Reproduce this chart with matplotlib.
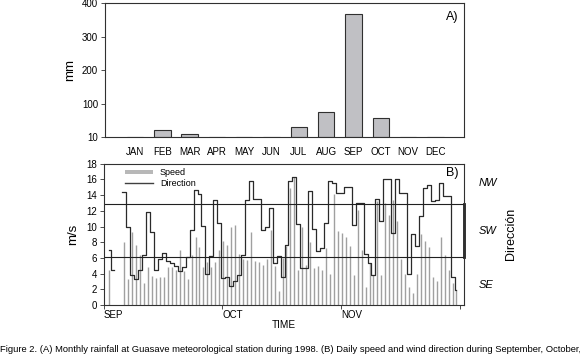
import matplotlib
matplotlib.use("Agg")
import matplotlib.pyplot as plt
import numpy as np
from matplotlib.patches import Patch
from matplotlib.lines import Line2D

plt.rcParams['font.family'] = ['Liberation Sans', 'DejaVu Sans']

# A) monthly rainfall 1998 (mm)
months = ['JAN', 'FEB', 'MAR', 'APR', 'MAY', 'JUN', 'JUL', 'AUG', 'SEP', 'OCT', 'NOV', 'DEC']
rain = [0, 20, 8, 0, 0, 0, 30, 75, 368, 58, 0, 0]
rain_ticks = [0, 100, 200, 300, 400]
rain_ticklabels = ['10', '100', '200', '300', '400']

# B) daily wind, 1 Sep .. 29 Nov (day index 1..89)
speed = [4.4, 0, 0, 0, 8.0, 3.3, 9.3, 7.6, 6.4, 2.8,
         4.9, 3.7, 3.4, 3.5, 3.6, 4.9, 4.8, 4.5, 7.0, 4.3,
         3.3, 6.4, 8.6, 7.4, 4.9, 5.5, 4.9, 5.5, 7.0, 8.1,
         7.7, 9.9, 10.2, 6.5, 5.8, 5.7, 9.3, 5.6, 5.5, 5.1,
         5.8, 9.5, 5.0, 1.8, 6.0, 7.5, 14.9, 16.3, 4.5, 10.0,
         5.1, 8.0, 4.7, 5.0, 4.4, 7.2, 4.0, 14.1, 9.4, 9.2,
         8.7, 7.5, 3.8, 12.1, 7.0, 2.3, 5.3, 3.8, 13.2, 3.8,
         13.0, 11.5, 13.4, 10.7, 5.8, 4.0, 2.3, 1.5, 4.0, 9.0,
         8.1, 7.4, 3.6, 3.0, 8.7, 6.4, 4.5, 2.8, 1.9]
direction = [7.0, 4.5, np.nan, np.nan, 14.4, 10.0, 3.8, 3.3, 4.5, 6.4,
             11.9, 9.3, 4.5, 5.8, 6.6, 5.6, 5.3, 5.0, 4.3, 4.9,
             6.1, 9.6, 14.6, 14.1, 10.1, 3.9, 6.3, 13.4, 10.4, 3.4,
             3.6, 2.4, 3.0, 3.8, 6.4, 13.4, 15.8, 13.5, 13.5, 9.5,
             10.0, 12.4, 5.3, 6.2, 3.6, 7.6, 15.8, 16.3, 10.3, 4.7,
             4.7, 14.5, 9.7, 6.9, 7.3, 10.4, 15.8, 15.6, 14.3, 14.3,
             15.0, 15.0, 10.2, 13.0, 13.0, 6.5, 5.3, 3.8, 13.5, 10.7,
             16.1, 16.1, 9.2, 16.1, 14.3, 14.3, 4.0, 9.0, 7.5, 11.3,
             14.9, 15.3, 13.2, 13.4, 15.6, 13.9, 13.9, 3.6, 1.9]
month_ticks = [0, 30, 60, 90]
month_ticklabels = ['SEP', 'OCT', 'NOV', '']
sector_limits = [6.05, 12.85]
sectors = ['NW', 'SW', 'SE']

fig = plt.figure(figsize=(5.8, 3.6), dpi=100)
edge = '#303030'

# ---- panel A
ax1 = fig.add_axes([0.181, 0.619, 0.619, 0.372])
x = np.arange(len(months))
ax1.bar(x, rain, width=0.6, facecolor='#c0c0c4', edgecolor=edge, linewidth=0.8)
ax1.set_xlim(-1.1, 12.05)
ax1.set_ylim(0, 400)
ax1.set_xticks(x)
ax1.set_xticklabels(months)
ax1.set_yticks(rain_ticks)
ax1.set_yticklabels(rain_ticklabels)
ax1.tick_params(axis='x', length=0, labelsize=7, pad=7)
ax1.tick_params(axis='y', length=3, width=0.6, labelsize=7, color=edge, pad=2)
ax1.set_ylabel('mm', fontsize=9.5, labelpad=4)
ax1.text(0.985, 0.9, 'A)', transform=ax1.transAxes, ha='right', va='center', fontsize=9)
for s in ax1.spines.values():
    s.set_color(edge)
    s.set_linewidth(0.8)

# ---- panel B
ax2 = fig.add_axes([0.179, 0.153, 0.621, 0.392])
days = np.arange(1, len(speed) + 1) + 0.2
ax2.vlines(days, 0, speed, color='#a0a0a0', linewidth=1.0)
ax2.plot(days, direction, drawstyle='steps-mid', color='#2a2a2a', linewidth=0.9)
for lim in sector_limits:
    ax2.axhline(lim, color='#202020', linewidth=0.8)
ax2.set_xlim(0, 91.1)
ax2.set_ylim(0, 18)
ax2.plot([91.1, 91.1], sector_limits, color='#202020', linewidth=2.0, clip_on=False)
ax2.set_yticks(np.arange(0, 19, 2))
ax2.set_xticks(month_ticks)
ax2.set_xticklabels(month_ticklabels, ha='left')
ax2.tick_params(axis='x', length=3, width=0.6, labelsize=7, pad=1, color=edge)
ax2.tick_params(axis='y', length=3, width=0.6, labelsize=7, color=edge, pad=2)
ax2.set_ylabel('m/s', fontsize=9.5, labelpad=5)
ax2.set_xlabel('TIME', fontsize=7.2, labelpad=0)
ax2.text(0.985, 0.935, 'B)', transform=ax2.transAxes, ha='right', va='center', fontsize=9)
for s in ax2.spines.values():
    s.set_color(edge)
    s.set_linewidth(0.8)

for label, yv in zip(sectors, [15.5, 9.4, 2.6]):
    ax2.text(1.04, yv, label, transform=ax2.get_yaxis_transform(), fontsize=8,
             style='italic', ha='left', va='center')
ax2.text(1.13, 0.5, 'Dirección', transform=ax2.transAxes, rotation=90,
         fontsize=9, ha='center', va='center')

handles = [Patch(facecolor='#b8b8b8', edgecolor='none'),
           Line2D([0], [0], color='#404040', linewidth=1.0)]
ax2.legend(handles, ['Speed', 'Direction'], loc='upper left', bbox_to_anchor=(0.04, 1.02),
           frameon=False, fontsize=6.5, handlelength=3.0, handleheight=0.4,
           labelspacing=0.15, borderpad=0.3)

fig.text(0.0, 0.03, 'Figure 2. (A) Monthly rainfall at Guasave meteorological station during 1998. '
         '(B) Daily speed and wind direction during September, October,',
         fontsize=6.75, ha='left', va='center')

fig.savefig('out.png', dpi=100)
